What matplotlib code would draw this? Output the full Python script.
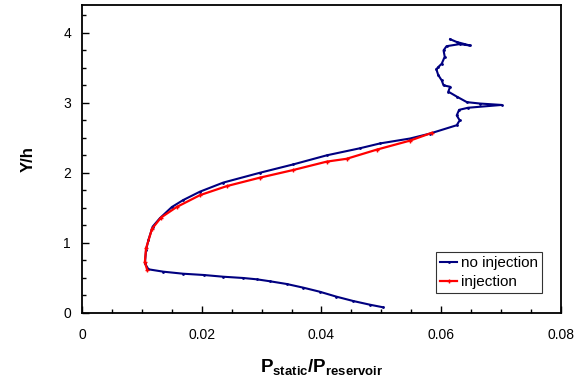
import matplotlib
matplotlib.use("Agg")
import matplotlib.pyplot as plt
from matplotlib.ticker import MultipleLocator

plt.rcParams['font.family'] = ['Liberation Sans', 'DejaVu Sans']
plt.rcParams['mathtext.fontset'] = 'custom'
plt.rcParams['mathtext.rm'] = 'Liberation Sans'
plt.rcParams['mathtext.bf'] = 'Liberation Sans:bold'

# no injection profile (P/P0, Y/h) from bottom to top
noinj_p = [0.0503, 0.0481, 0.0453, 0.0425, 0.0397, 0.0370, 0.0342, 0.0314, 0.0292,
           0.0269, 0.0236, 0.0203, 0.0169, 0.0136, 0.0111,
           0.0105, 0.0107, 0.0111, 0.0118, 0.0130, 0.0150, 0.0169, 0.0197, 0.0236,
           0.0297, 0.0353, 0.0409, 0.0464, 0.0498, 0.0548, 0.0581, 0.0626, 0.0631,
           0.0626, 0.0630, 0.0645, 0.0701, 0.0665, 0.0643, 0.0626, 0.0612, 0.0615,
           0.0604, 0.0601, 0.0595, 0.0592, 0.0595, 0.0601, 0.0606, 0.0604, 0.0609,
           0.0631, 0.0648, 0.0626, 0.0615]
noinj_y = [0.077, 0.114, 0.167, 0.229, 0.300, 0.357, 0.410, 0.449, 0.477,
           0.496, 0.514, 0.539, 0.557, 0.586, 0.620,
           0.706, 0.896, 1.04, 1.23, 1.35, 1.51, 1.61, 1.73, 1.86,
           2.00, 2.12, 2.25, 2.35, 2.42, 2.49, 2.56, 2.68, 2.75,
           2.82, 2.90, 2.93, 2.97, 2.99, 3.01, 3.09, 3.16, 3.23,
           3.25, 3.32, 3.40, 3.48, 3.51, 3.56, 3.66, 3.75, 3.81,
           3.84, 3.82, 3.87, 3.91]

# injection profile
inj_p = [0.0109, 0.0105, 0.0107, 0.0117, 0.0132, 0.0158, 0.0197, 0.0242, 0.0297,
         0.0353, 0.0409, 0.0442, 0.0492, 0.0548, 0.0584]
inj_y = [0.61, 0.72, 0.92, 1.20, 1.36, 1.51, 1.68, 1.81, 1.93,
         2.04, 2.16, 2.20, 2.33, 2.46, 2.57]

fig = plt.figure(figsize=(5.8, 3.79), dpi=100)
ax = fig.add_axes([0.1414, 0.175, 0.8256, 0.812])

ax.plot(noinj_p, noinj_y, color='#000080', lw=1.5, marker='.', ms=2,
        label='no injection')
ax.plot(inj_p, inj_y, color='#ff0000', lw=1.6, marker='+', ms=2.5,
        label='injection')

ax.set_xlim(0, 0.08)
ax.set_ylim(0, 4.4)
ax.set_xticks([0, 0.02, 0.04, 0.06, 0.08])
ax.set_xticklabels(['0', '0.02', '0.04', '0.06', '0.08'])
ax.xaxis.set_minor_locator(MultipleLocator(0.005))
ax.yaxis.set_major_locator(MultipleLocator(1))
ax.yaxis.set_minor_locator(MultipleLocator(0.25))
ax.tick_params(which='both', direction='in', labelsize=10, width=1)
ax.tick_params(which='major', length=5)
ax.tick_params(which='minor', length=3)
ax.tick_params(axis='x', which='major', pad=11)
ax.tick_params(axis='y', which='major', pad=8)
for s in ax.spines.values():
    s.set_linewidth(1.3)

ax.set_xlabel(r'$\mathbf{P}_{\mathbf{static}}\mathbf{/P}_{\mathbf{reservoir}}$',
              fontsize=13.5, labelpad=11)
ax.set_ylabel('Y/h', fontsize=12, fontweight='bold', labelpad=20)

leg = ax.legend(loc='lower right', bbox_to_anchor=(0.960, 0.065),
                borderaxespad=0, fontsize=11, frameon=True, fancybox=False,
                handlelength=1.1, handletextpad=0.25, borderpad=0.25,
                labelspacing=0.3)
leg.get_frame().set_edgecolor('black')
leg.get_frame().set_linewidth(0.8)

fig.savefig("out.png", dpi=100)
